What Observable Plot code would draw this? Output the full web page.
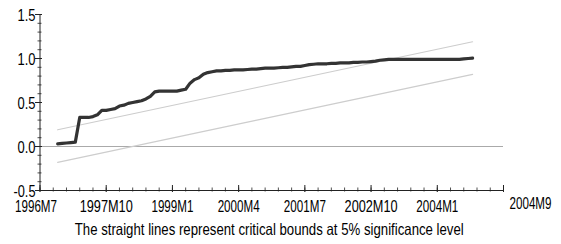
<!DOCTYPE html>
<html><head><meta charset="utf-8">
<script src="https://cdn.jsdelivr.net/npm/d3@7"></script>
<script src="https://cdn.jsdelivr.net/npm/@observablehq/plot@0.6"></script>
<style>body{margin:0;background:#fff;} svg{display:block}</style>
</head><body><div id="chart"></div><script>
// month index: 0 = 1996M7
const cusumStartIdx = 4;
const cusumValues = [
  0.03, 0.035, 0.04, 0.045, 0.05, 0.33, 0.33, 0.33, 0.34, 0.36,
  0.41, 0.41, 0.42, 0.43, 0.46, 0.47, 0.49, 0.50, 0.51, 0.52,
  0.54, 0.57, 0.62, 0.63, 0.63, 0.63, 0.63, 0.63, 0.64, 0.65,
  0.72, 0.76, 0.78, 0.82, 0.84, 0.85, 0.86, 0.86, 0.865, 0.865,
  0.87, 0.87, 0.87, 0.875, 0.88, 0.88, 0.885, 0.89, 0.89, 0.89,
  0.895, 0.90, 0.90, 0.905, 0.91, 0.91, 0.92, 0.93, 0.935, 0.94,
  0.94, 0.94, 0.945, 0.945, 0.95, 0.95, 0.95, 0.955, 0.955, 0.96,
  0.96, 0.965, 0.97, 0.98, 0.985, 0.99, 0.99, 0.99, 0.99, 0.99,
  0.99, 0.99, 0.99, 0.99, 0.99, 0.99, 0.99, 0.99, 0.99, 0.99,
  0.99, 0.99, 0.995, 1.0, 1.005
];
const boundIdx = [4, 98];
const upperBound = [0.19, 1.19];
const lowerBound = [-0.18, 0.82];
const xTickIdx = [0, 15, 30, 45, 60, 75, 90];
const xTickLabels = ["1996M7", "1997M10", "1999M1", "2000M4", "2001M7", "2002M10", "2004M1"];
const xEndIdx = 105;
const xEndLabel = "2004M9";
const yTicks = [-0.5, 0.0, 0.5, 1.0, 1.5];
const captionText = "The straight lines represent critical bounds at 5% significance level";

const cusum = cusumValues.map((v, i) => ({x: cusumStartIdx + i, y: v}));
const upper = boundIdx.map((x, i) => ({x, y: upperBound[i]}));
const lower = boundIdx.map((x, i) => ({x, y: lowerBound[i]}));
const xMinor = d3.range(0, xEndIdx + 1, 3);
const yMinor = d3.range(-5, 16).map(d => d / 10);
const xLabels = xTickIdx.map((x, i) => ({x, label: xTickLabels[i]}));

const pxX = 463.5 / 105;  // px per month
const pxY = 176 / 2;      // px per unit
const axisColor = "#222";
const font = "'Liberation Sans', Arial, sans-serif";
const fs = 17;

const chart = Plot.plot({
  width: 561, height: 244,
  marginLeft: 39.5, marginRight: 58, marginTop: 14, marginBottom: 54,
  x: {domain: [0, xEndIdx], axis: null},
  y: {domain: [-0.5, 1.5], axis: null},
  style: {fontFamily: font, background: "#fff", overflow: "visible"},
  marks: [
    Plot.ruleY([0], {x1: 0, x2: xEndIdx, stroke: "#aaa", strokeWidth: 1}),
    Plot.line(upper, {x: "x", y: "y", stroke: "#cdcdcd", strokeWidth: 1.2}),
    Plot.line(lower, {x: "x", y: "y", stroke: "#cdcdcd", strokeWidth: 1.2}),
    Plot.line(cusum, {x: "x", y: "y", stroke: "#333", strokeWidth: 3.2, strokeLinejoin: "round"}),
    Plot.ruleY([-0.5], {x1: 0, x2: xEndIdx, stroke: axisColor, strokeWidth: 1}),
    Plot.ruleX([0], {y1: -0.5, y2: 1.5, stroke: axisColor, strokeWidth: 1}),
    Plot.ruleX(xMinor, {x: d => d, y1: -0.5 - 1.5 / pxY, y2: -0.5 + 2.5 / pxY, stroke: axisColor, strokeWidth: 0.8}),
    Plot.ruleX([...xTickIdx, xEndIdx], {x: d => d, y1: -0.5 - 2 / pxY, y2: -0.5 + 5 / pxY, stroke: axisColor, strokeWidth: 1}),
    Plot.ruleY(yMinor, {y: d => d, x1: -2 / pxX, x2: 2 / pxX, stroke: axisColor, strokeWidth: 0.8}),
    Plot.ruleY(yTicks, {y: d => d, x1: -4.5 / pxX, x2: 2.5 / pxX, stroke: axisColor, strokeWidth: 1}),
    Plot.text(xLabels.slice(0, 1), {x: "x", y: -0.5, text: "label", dx: -4, dy: 16, fontSize: fs, fill: "#000"}),
    Plot.text(xLabels.slice(1), {x: "x", y: -0.5, text: "label", dy: 16, fontSize: fs, fill: "#000"}),
    Plot.text([xEndIdx], {x: d => d, y: -0.5, text: () => xEndLabel, dx: 6, dy: 13, textAnchor: "start", fontSize: fs, fill: "#000"}),
    Plot.text(yTicks, {x: 0, y: d => d, text: d => d.toFixed(1), textAnchor: "end", dx: -4.5, dy: 1, fontSize: fs, fill: "#000"}),
    Plot.text([captionText], {frameAnchor: "bottom", text: d => d, dx: -2.5, dy: 44.5, fontSize: 16.5, fill: "#000"})
  ]
});
document.getElementById("chart").appendChild(chart);

// condense text like the original (narrow rendering)
chart.querySelectorAll("text").forEach(t => {
  const s = t.textContent;
  let target;
  if (s === captionText) target = 389;
  else if (/M1\d$/.test(s)) target = 53;
  else if (/M/.test(s)) target = 42;
  else target = s.length === 4 ? 22 : 18;
  t.setAttribute("textLength", target);
  t.setAttribute("lengthAdjust", "spacingAndGlyphs");
});
</script></body></html>
